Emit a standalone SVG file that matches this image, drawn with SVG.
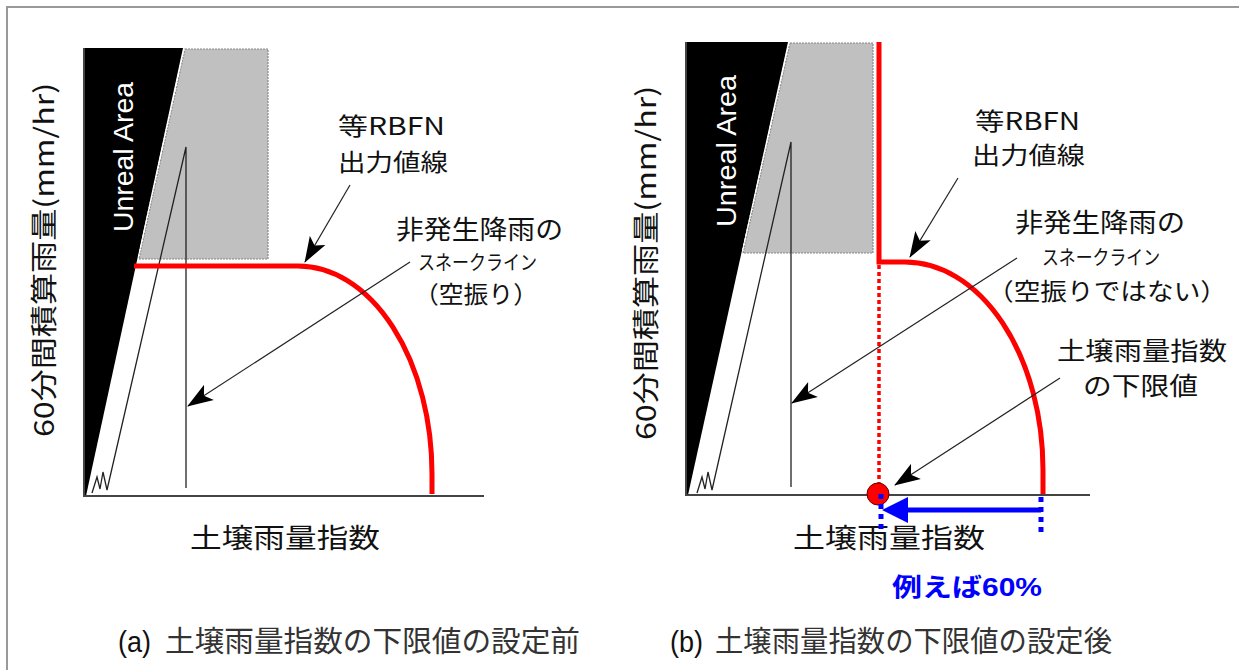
<svg xmlns="http://www.w3.org/2000/svg" width="1239" height="670" viewBox="0 0 1239 670">
<style>
.jp{font-family:"Noto Sans CJK JP","Liberation Sans",sans-serif;fill:#111;}
.lat{font-family:"Liberation Sans","Noto Sans CJK JP",sans-serif;fill:#111;}
.unreal{font-family:"Liberation Sans",sans-serif;fill:#fff;font-size:28px;}
.axis{stroke:#444;stroke-width:2;fill:none;}
.snake{stroke:#222;stroke-width:1.3;fill:none;}
.gray{fill:#c0c0c0;stroke:#888;stroke-width:1.2;stroke-dasharray:2 1;}
.red{stroke:#ff0000;stroke-width:5;fill:none;}
.lead{stroke:#222;stroke-width:1.2;fill:none;marker-end:url(#ah);}
.blue{stroke:#0000ff;stroke-width:5;fill:none;}
</style>
<defs>
<marker id="ah" markerUnits="userSpaceOnUse" markerWidth="26" markerHeight="20" viewBox="0 0 26 20" refX="25" refY="10" orient="auto">
<path d="M0,1 L26,10 L0,19 L6,10 z" fill="#000"/>
</marker>
</defs>
<rect width="1239" height="670" fill="#fff"/>
<path d="M7,670 V7 H1239" fill="none" stroke="#999" stroke-width="2"/>

<g id="panel-a">
<polygon points="83,48 183,48 86,496 83,496" fill="#000"/>
<polygon class="gray" points="185,49 268,49 268,259 139,259"/>
<line x1="184" y1="49" x2="138" y2="259" stroke="#fff" stroke-width="1.2" stroke-dasharray="3 2"/>
<path class="axis" d="M84,48 V496 H484"/>
<text class="unreal" transform="translate(133,157) rotate(-90)" text-anchor="middle" textLength="150" lengthAdjust="spacingAndGlyphs">Unreal Area</text>
<text class="jp" font-size="27" transform="translate(54,437) rotate(-90)" textLength="354" lengthAdjust="spacingAndGlyphs">60分間積算雨量(mm/hr)</text>
<text class="jp" font-size="27" x="190" y="548" textLength="190" lengthAdjust="spacingAndGlyphs">土壌雨量指数</text>
</g>

<g id="panel-b">
<polygon points="686,42 788,42 688,495 686,495" fill="#000"/>
<polygon class="gray" points="790,43 873,43 873,253 743,253"/>
<line x1="789" y1="43" x2="742" y2="253" stroke="#fff" stroke-width="1.2" stroke-dasharray="3 2"/>
<path class="axis" d="M686,42 V495 H1090"/>
<text class="unreal" transform="translate(736,151) rotate(-90)" text-anchor="middle" textLength="152" lengthAdjust="spacingAndGlyphs">Unreal Area</text>
<text class="jp" font-size="27" transform="translate(656,440) rotate(-90)" textLength="354" lengthAdjust="spacingAndGlyphs">60分間積算雨量(mm/hr)</text>
<text class="jp" font-size="27" x="793" y="548" textLength="192" lengthAdjust="spacingAndGlyphs">土壌雨量指数</text>
</g>

<g id="snake-line-a">
<polyline class="snake" points="92,493 97,477 100,489 103,472 107,490 186,147 186,488"/>
</g>
<g id="snake-line-b">
<polyline class="snake" points="697,493 702,477 705,489 708,472 712,490 791,142 791,487"/>
</g>

<g id="rbfn-line-a">
<path class="red" d="M134,266 H298 A134,208 0 0 1 432,474 V494"/>
</g>
<g id="rbfn-line-b">
<path class="red" d="M879,42 V262 H905 A138,208 0 0 1 1043,470 V494"/>
<line x1="879" y1="265" x2="879" y2="488" stroke="#ff0000" stroke-width="3.5" stroke-dasharray="4 3"/>
</g>

<g id="lower-limit-point">
<circle cx="878" cy="494" r="11" fill="#ff0000" stroke="#660000" stroke-width="1"/>
<line class="blue" x1="881" y1="494" x2="881" y2="532" stroke-dasharray="5 5"/>
<line class="blue" x1="1041" y1="497" x2="1041" y2="534" stroke-dasharray="5 5"/>
<line class="blue" x1="904" y1="510" x2="1041" y2="510"/>
<polygon points="882,510 908,497 908,523" fill="#0000ff"/>
<text x="892" y="596" font-family="'Liberation Sans','Noto Sans CJK JP',sans-serif" font-weight="bold" font-size="25" fill="#0000ff" textLength="150" lengthAdjust="spacingAndGlyphs">例えば60%</text>
</g>

<g id="connectors">
<line class="lead" x1="350" y1="185" x2="305" y2="262"/>
<line class="lead" x1="410" y1="262" x2="188" y2="406"/>
<line class="lead" x1="958" y1="178" x2="910" y2="257"/>
<line class="lead" x1="1017" y1="258" x2="792" y2="403"/>
<line class="lead" x1="1060" y1="378" x2="895" y2="485"/>
</g>

<g id="labels-a">
<text class="jp" font-size="24" x="338" y="135" textLength="107" lengthAdjust="spacingAndGlyphs">等RBFN</text>
<text class="jp" font-size="24" x="338" y="171" textLength="110" lengthAdjust="spacingAndGlyphs">出力値線</text>
<text class="jp" font-size="26" x="396" y="239" textLength="167" lengthAdjust="spacingAndGlyphs">非発生降雨の</text>
<text class="jp" font-size="20" x="418" y="270" textLength="119" lengthAdjust="spacingAndGlyphs">スネークライン</text>
<text class="jp" font-size="24" x="414" y="303" textLength="124" lengthAdjust="spacingAndGlyphs">（空振り）</text>
</g>

<g id="labels-b">
<text class="jp" font-size="24" x="975" y="130" textLength="105" lengthAdjust="spacingAndGlyphs">等RBFN</text>
<text class="jp" font-size="24" x="972" y="164" textLength="113" lengthAdjust="spacingAndGlyphs">出力値線</text>
<text class="jp" font-size="26" x="1015" y="232" textLength="170" lengthAdjust="spacingAndGlyphs">非発生降雨の</text>
<text class="jp" font-size="20" x="1042" y="265" textLength="118" lengthAdjust="spacingAndGlyphs">スネークライン</text>
<text class="jp" font-size="24" x="987" y="300" textLength="240" lengthAdjust="spacingAndGlyphs">（空振りではない）</text>
<text class="jp" font-size="25" x="1057" y="360" textLength="170" lengthAdjust="spacingAndGlyphs">土壌雨量指数</text>
<text class="jp" font-size="25" x="1083" y="395" textLength="115" lengthAdjust="spacingAndGlyphs">の下限値</text>
</g>

<g id="captions">
<text class="lat" font-size="29" x="118" y="652" textLength="33" lengthAdjust="spacingAndGlyphs" fill="#222">(a)</text>
<text class="jp" font-size="29" x="165" y="652" textLength="415" lengthAdjust="spacingAndGlyphs" style="fill:#333">土壌雨量指数の下限値の設定前</text>
<text class="lat" font-size="29" x="670" y="652" textLength="33" lengthAdjust="spacingAndGlyphs" fill="#222">(b)</text>
<text class="jp" font-size="29" x="715" y="652" textLength="397" lengthAdjust="spacingAndGlyphs" style="fill:#333">土壌雨量指数の下限値の設定後</text>
</g>
</svg>
